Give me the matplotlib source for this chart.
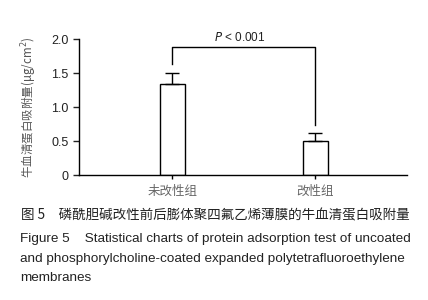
import numpy as np
import matplotlib.pyplot as plt

plt.rcParams['font.family'] = ['Liberation Sans', 'Noto Sans CJK SC', 'DejaVu Sans']

# data
groups = ['未改性组', '改性组']
means = [1.34, 0.50]
errs = [0.16, 0.12]
p_text = '$\\it{P}$ < 0.001'
yticks = [0, 0.5, 1.0, 1.5, 2.0]
yticklabels = ['0', '0.5', '1.0', '1.5', '2.0']

fig = plt.figure(figsize=(4.28, 3.0), dpi=100)
ax = fig.add_axes([0.1846, 0.4157, 0.7664, 0.4533])

x = np.arange(1, len(groups) + 1)
ax.bar(x, means, width=0.175, color='white', edgecolor='black', linewidth=1.0)
ax.errorbar(x, means, yerr=[np.zeros(len(errs)), errs], fmt='none', ecolor='black',
            elinewidth=1.0, capsize=5, capthick=1.0)

# significance bracket
y_top = 1.88
ax.plot([x[0], x[0], x[1], x[1]], [means[0] + errs[0] + 0.14, y_top, y_top, means[1] + errs[1] + 0.12],
        color='black', linewidth=1.0, clip_on=False)
ax.text((x[0] + x[1]) / 2 - 0.03, y_top + 0.05, p_text, ha='center', va='bottom', fontsize=8.5,
        color='#222222', clip_on=False)

ax.set_xlim(0.35, 2.64)
ax.set_ylim(0, 2.0)
ax.set_yticks(yticks)
ax.set_yticklabels(yticklabels)
ax.set_xticks(x)
ax.set_xticklabels(groups, family=['Noto Sans CJK SC'], fontsize=9, color='#666666')
ax.tick_params(axis='y', labelsize=9, colors='#222222', length=4, width=1.0)
ax.tick_params(axis='x', length=3, width=1.0, pad=4)
for s in ['top', 'right']:
    ax.spines[s].set_visible(False)
for s in ['left', 'bottom']:
    ax.spines[s].set_linewidth(1.0)
ax.set_ylabel('牛血清蛋白吸附量(μg/cm$^2$)', fontsize=8.3, color='#555555', labelpad=9,
              family=['Noto Sans CJK SC', 'DejaVu Sans'])

# caption
fig.text(0.049, 0.283, '图 5　磷酰胆碱改性前后膨体聚四氟乙烯薄膜的牛血清蛋白吸附量',
         fontsize=9.75, fontweight='medium', family=['Noto Sans CJK SC'], color='#222222', va='center')
fig.text(0.047, 0.203, 'Figure 5    Statistical charts of protein adsorption test of uncoated',
         fontsize=9.7, color='#222222', va='center')
fig.text(0.047, 0.138, 'and phosphorylcholine-coated expanded polytetrafluoroethylene',
         fontsize=9.7, color='#222222', va='center')
fig.text(0.047, 0.073, 'membranes', fontsize=9.7, color='#222222', va='center')

fig.savefig('out.png', dpi=100)
